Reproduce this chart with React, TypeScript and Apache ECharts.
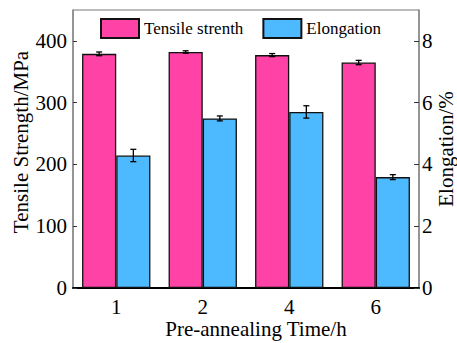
import React, { useEffect, useRef } from "react";
import * as echarts from "echarts";

const categories = ["1", "2", "4", "6"];
const tensile = [379, 382, 377, 365];
const tensileErr = [3, 2, 2.5, 3.5];
const elongation = [4.29, 5.49, 5.7, 3.59];
const elongationErr = [0.2, 0.08, 0.2, 0.08];
const leftTicks = { min: 0, max: 450, interval: 100 };
const rightTicks = { min: 0, max: 9, interval: 2 };

const FONT = "Liberation Serif";
const PINK = "#FF43A6";
const BLUE = "#4DB9FF";
const GAP = 0.21;

function errRender(values: number[], errs: number[], side: number) {
  return (params: any, api: any) => {
    const i = api.value(0);
    const v = values[i];
    const e = errs[i];
    const center = api.coord([i, v]);
    const catW = api.size([1, 0])[0];
    const barW = (catW * (1 - GAP)) / 2;
    const x = center[0] + side * barW / 2;
    const top = api.coord([i, v + e])[1];
    const bot = api.coord([i, v - e])[1];
    const cap = 3;
    const style = { stroke: "#000", lineWidth: 1.3 };
    return {
      type: "group",
      children: [
        { type: "line", shape: { x1: x, y1: top, x2: x, y2: bot }, style },
        { type: "line", shape: { x1: x - cap, y1: top, x2: x + cap, y2: top }, style },
        { type: "line", shape: { x1: x - cap, y1: bot, x2: x + cap, y2: bot }, style },
      ],
    };
  };
}

export default function App() {
  const ref = useRef<HTMLDivElement>(null);
  useEffect(() => {
    const chart = echarts.init(ref.current!, null, { renderer: "svg" });
    chart.setOption({
      animation: false,
      backgroundColor: "#fff",
      textStyle: { fontFamily: FONT },
      grid: {
        left: 73,
        right: 38,
        top: 10,
        bottom: 55,
        containLabel: false,
        outerBoundsMode: "none",
        show: true,
        borderColor: "#777",
        borderWidth: 1,
      },
      legend: {
        left: 95,
        top: 13,
        itemWidth: 38,
        itemHeight: 19,
        itemGap: 19,
        icon: "rect",
        textStyle: { fontFamily: FONT, fontSize: 17, color: "#000" },
        data: ["Tensile strenth", "Elongation"],
      },
      xAxis: {
        type: "category",
        data: categories,
        name: "Pre-annealing Time/h",
        nameLocation: "middle",
        nameGap: 30,
        nameMoveOverlap: false,
        nameTextStyle: { fontFamily: FONT, fontSize: 21, color: "#000", padding: [0, 0, 0, 20] },
        axisLine: { lineStyle: { color: "#000", width: 2 } },
        axisTick: { show: false },
        axisLabel: { fontFamily: FONT, fontSize: 21, color: "#000", margin: 8 },
      },
      yAxis: [
        {
          type: "value",
          min: leftTicks.min,
          max: leftTicks.max,
          interval: leftTicks.interval,
          name: "Tensile Strength/MPa",
          nameLocation: "middle",
          nameGap: 42,
          nameMoveOverlap: false,
          nameRotate: 90,
          nameTextStyle: { fontFamily: FONT, fontSize: 21, color: "#000", padding: [0, 0, 0, 14] },
          axisLine: { show: true, lineStyle: { color: "#888", width: 1.5 } },
          axisTick: { show: true, inside: true, length: 4, lineStyle: { color: "#333" } },
          axisLabel: { fontFamily: FONT, fontSize: 21, color: "#000", margin: 6, showMaxLabel: false },
          splitLine: { show: false },
        },
        {
          type: "value",
          min: rightTicks.min,
          max: rightTicks.max,
          interval: rightTicks.interval,
          position: "right",
          name: "Elongation/%",
          nameLocation: "middle",
          nameGap: 16,
          nameMoveOverlap: false,
          nameRotate: 90,
          nameTextStyle: { fontFamily: FONT, fontSize: 21, color: "#000" },
          axisLine: { show: true, lineStyle: { color: "#888", width: 1.5 } },
          axisTick: { show: true, inside: true, length: 5, lineStyle: { color: "#333" } },
          axisLabel: { fontFamily: FONT, fontSize: 21, color: "#000", margin: 3, showMaxLabel: false },
          splitLine: { show: false },
        },
      ],
      series: [
        {
          name: "Tensile strenth",
          type: "bar",
          yAxisIndex: 0,
          data: tensile,
          barGap: "0%",
          barCategoryGap: GAP * 100 + "%",
          itemStyle: { color: PINK, borderColor: "#111", borderWidth: 1.3 },
        },
        {
          name: "Elongation",
          type: "bar",
          yAxisIndex: 1,
          data: elongation,
          barGap: "0%",
          barCategoryGap: GAP * 100 + "%",
          itemStyle: { color: BLUE, borderColor: "#111", borderWidth: 1.3 },
        },
        {
          type: "custom",
          yAxisIndex: 0,
          renderItem: errRender(tensile, tensileErr, -1),
          data: categories.map((_, i) => [i, tensile[i]]),
          z: 10,
        },
        {
          type: "custom",
          yAxisIndex: 1,
          renderItem: errRender(elongation, elongationErr, 1),
          data: categories.map((_, i) => [i, elongation[i]]),
          z: 10,
        },
      ],
    });
    return () => chart.dispose();
  }, []);
  return <div ref={ref} style={{ width: 457, height: 343, position: "absolute", left: 0, top: 0 }} />;
}
